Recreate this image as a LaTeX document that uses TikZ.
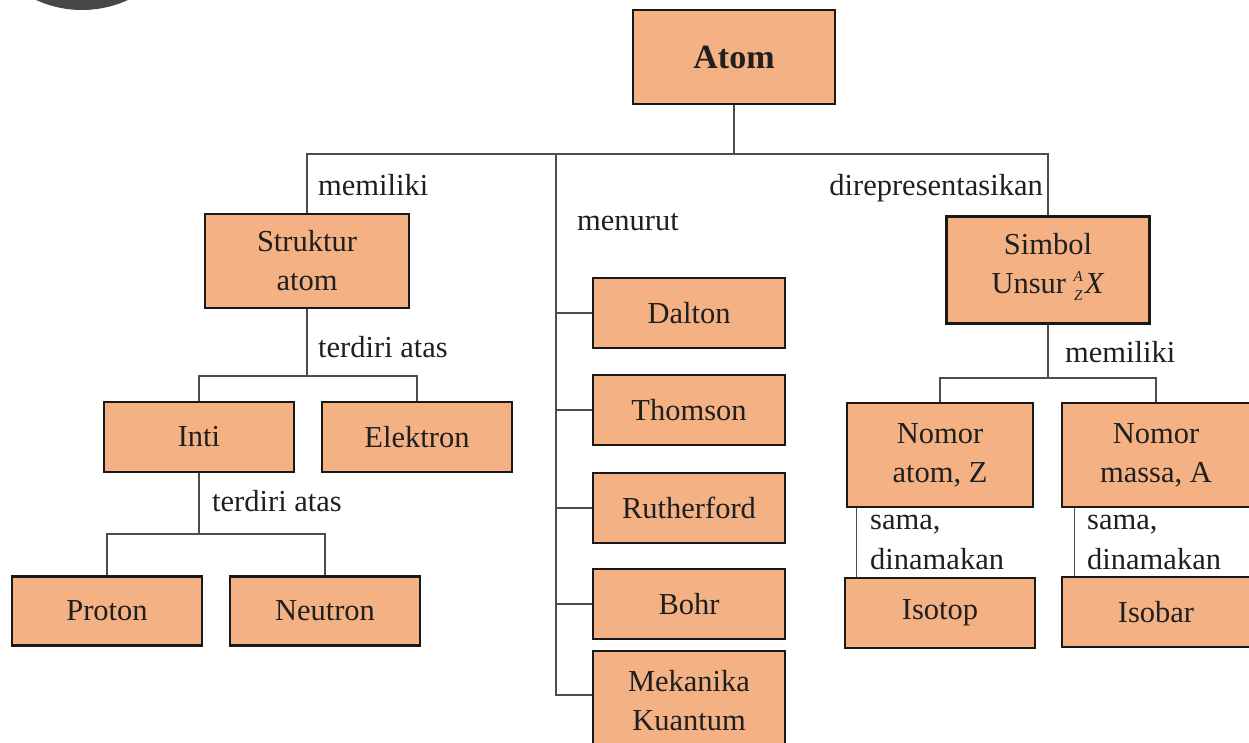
\documentclass[tikz,border=0pt]{standalone}
\usepackage{fontspec}
\setmainfont{Liberation Serif}
\definecolor{boxfill}{HTML}{F4B183}
\newcommand{\unsursym}{\textit{\raisebox{-7pt}{\fontsize{15}{19}\selectfont\begin{tabular}[b]{@{}c@{}}A\\Z\end{tabular}}\kern2pt X}}

\begin{document}
\begin{tikzpicture}[x=1pt,y=-1pt,
    box/.style={draw=black!90,line width=2.6pt,fill=boxfill,align=center,inner sep=0pt,
      minimum width=190pt,minimum height=70pt,text=black!88,font=\fontsize{30.5}{39}\selectfont},
    lbl/.style={inner sep=0pt,anchor=west,align=left,text=black!88,font=\fontsize{30.5}{40}\selectfont},
    link/.style={draw=black!70,line width=1.4pt}]
  \useasboundingbox (0,0) rectangle (1249,742);
  \clip (0,0) rectangle (1249,742);
  \fill[black!72] (82,-100) circle (110pt);

  \node[box,minimum width=202pt,minimum height=94pt,font=\fontsize{34}{40}\selectfont\bfseries] (atom) at (734,57) {Atom};
  \node[box,minimum width=204pt,minimum height=94pt] (struktur) at (307,261) {Struktur\\atom};
  \node[box,minimum width=203pt,minimum height=107pt] (simbol) at (1048,270) {Simbol\\Unsur~\unsursym};
  \node[box] (inti) at (199,437) {Inti};
  \node[box] (elektron) at (417,437) {Elektron};
  \node[box,minimum height=69pt] (proton) at (107,611) {Proton};
  \node[box,minimum height=69pt] (neutron) at (325,611) {Neutron};
  \node[box,minimum width=192pt] (dalton) at (689,313) {Dalton};
  \node[box,minimum width=192pt] (thomson) at (689,410) {Thomson};
  \node[box,minimum width=192pt] (rutherford) at (689,508) {Rutherford};
  \node[box,minimum width=192pt] (bohr) at (689,604) {Bohr};
  \node[box,minimum width=192pt,minimum height=100pt] (mekanika) at (689,701) {Mekanika\\Kuantum};
  \node[box,minimum width=186pt,minimum height=104pt] (nomoratom) at (940,455) {Nomor\\atom, Z};
  \node[box,minimum width=188pt,minimum height=104pt] (nomormassa) at (1156,455) {Nomor\\massa, A};
  \node[box] (isotop) at (940,613) {Isotop};
  \node[box,minimum width=188pt] (isobar) at (1156,612) {Isobar};

  \coordinate (bus) at (0,154);
  \coordinate (spine) at (556,154);
  \coordinate (leftbus) at (0,376);
  \coordinate (intibus) at (0,534);
  \coordinate (rightbus) at (0,378);

  \draw[link] (atom.south) -- (atom.south |- bus);
  \draw[link] (struktur.north) -- (struktur.north |- bus) -- (simbol.north |- bus) -- (simbol.north);
  \foreach \m in {dalton,thomson,rutherford,bohr}
    \draw[link] (spine) |- (\m.west);
  \draw[link] (spine) |- ([yshift=6pt]mekanika.west);
  \draw[link] (struktur.south) -- (struktur.south |- leftbus);
  \draw[link] (inti.north) -- (inti.north |- leftbus) -- (elektron.north |- leftbus) -- (elektron.north);
  \draw[link] (inti.south) -- (inti.south |- intibus);
  \draw[link] (proton.north) -- (proton.north |- intibus) -- (neutron.north |- intibus) -- (neutron.north);
  \draw[link] (simbol.south) -- (simbol.south |- rightbus);
  \draw[link] (nomoratom.north) -- (nomoratom.north |- rightbus) -- (nomormassa.north |- rightbus) -- (nomormassa.north);
  \draw[link] ([xshift=11pt]nomoratom.south west) -- ([xshift=11pt]nomoratom.south west |- isotop.north);
  \draw[link] ([xshift=14pt]nomormassa.south west) -- ([xshift=14pt]nomormassa.south west |- isobar.north);

  \node[lbl] (memiliki1) at (318,185) {memiliki};
  \node[lbl] (terdiri1) at (318,347) {terdiri atas};
  \node[lbl] (terdiri2) at (212,501) {terdiri atas};
  \node[lbl] (menurut) at (577,222) {menurut};
  \node[lbl,anchor=east] (direp) at (1043,188) {direpresentasikan};
  \node[lbl] (memiliki2) at (1065,352) {memiliki};
  \node[lbl] (sama1) at (870,542) {sama,\\dinamakan};
  \node[lbl] (sama2) at (1087,542) {sama,\\dinamakan};
\end{tikzpicture}
\end{document}
